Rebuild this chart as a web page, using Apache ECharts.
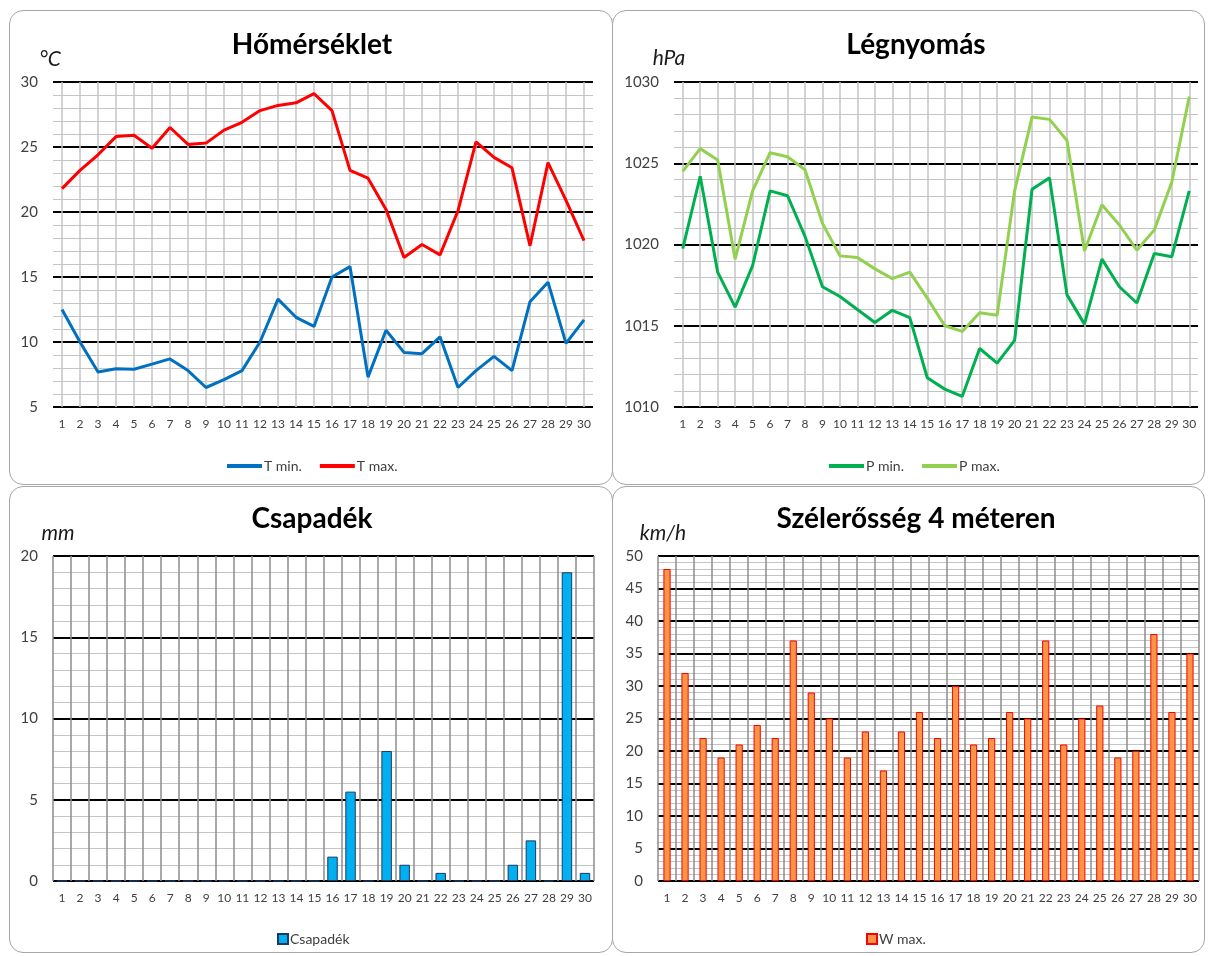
<!DOCTYPE html>
<html>
<head>
<meta charset="utf-8">
<script src="https://cdn.jsdelivr.net/npm/echarts@6/dist/echarts.min.js"></script>
<style>
    body { margin: 0; background: #fff; }
    .panel {
        position: absolute;
        border: 1px solid #a6a6a6;
        border-radius: 14px;
        box-sizing: border-box;
        background: #fff;
    }
</style>
</head>
<body>
<div class="panel" id="temp" style="left:9px;top:10px;width:604px;height:475px;"></div>
<div class="panel" id="pres" style="left:612px;top:10px;width:593px;height:475px;"></div>
<div class="panel" id="rain" style="left:9px;top:486px;width:604px;height:467px;"></div>
<div class="panel" id="wind" style="left:612px;top:486px;width:593px;height:467px;"></div>
<script>
// napok
var days = [];
for (var d = 1; d <= 30; d++) days.push(String(d));

// hőmérséklet (°C)
var tMin = [12.5, 10.0, 7.7, 7.95, 7.9, 8.3, 8.7, 7.8, 6.5, 7.1, 7.8, 10.0, 13.3, 11.9, 11.2,
            15.0, 15.8, 7.3, 10.9, 9.2, 9.1, 10.4, 6.5, 7.8, 8.9, 7.8, 13.1, 14.6, 9.9, 11.7];
var tMax = [21.8, 23.2, 24.4, 25.8, 25.9, 24.9, 26.5, 25.2, 25.3, 26.3, 26.9, 27.8, 28.2, 28.4, 29.1,
            27.8, 23.2, 22.6, 20.2, 16.5, 17.5, 16.7, 20.1, 25.4, 24.2, 23.4, 17.4, 23.8, 20.9, 17.8];

// légnyomás (hPa)
var pMin = [1019.75, 1024.2, 1018.3, 1016.15, 1018.7, 1023.3, 1023.0, 1020.5, 1017.4, 1016.8,
            1016.0, 1015.2, 1015.95, 1015.5, 1011.8, 1011.1, 1010.65, 1013.6, 1012.7, 1014.1,
            1023.4, 1024.1, 1016.9, 1015.1, 1019.1, 1017.4, 1016.4, 1019.45, 1019.25, 1023.3];
var pMax = [1024.5, 1025.9, 1025.2, 1019.1, 1023.3, 1025.65, 1025.4, 1024.6, 1021.3, 1019.3,
            1019.2, 1018.5, 1017.9, 1018.3, 1016.7, 1015.0, 1014.65, 1015.8, 1015.65, 1023.3,
            1027.85, 1027.7, 1026.4, 1019.6, 1022.45, 1021.2, 1019.65, 1020.9, 1023.85, 1029.1];

// csapadék (mm)
var rain = [0, 0, 0, 0, 0, 0, 0, 0, 0, 0, 0, 0, 0, 0, 0,
            1.5, 5.5, 0, 8, 1, 0, 0.5, 0, 0, 0, 1, 2.5, 0, 19, 0.5];

// szélerősség (km/h)
var wind = [48, 32, 22, 19, 21, 24, 22, 37, 29, 25, 19, 23, 17, 23, 26,
            22, 30, 21, 22, 26, 25, 37, 21, 25, 27, 19, 20, 38, 26, 35];

var FONT = 'Lato, "Open Sans", sans-serif';

// cím + mértékegység szövegek
function labels(title, tx, ty, unit, ux, uy) {
    return [
        {
            type: 'text', x: tx, y: ty,
            style: { text: title, fontSize: 28, fontWeight: 'bold', fontFamily: FONT,
                     fill: '#000', align: 'center', verticalAlign: 'middle' }
        },
        {
            type: 'text', x: ux, y: uy,
            style: { text: unit, fontSize: 21, fontStyle: 'italic', fontFamily: FONT,
                     fill: '#1a1a1a', align: 'center', verticalAlign: 'middle' }
        }
    ];
}

// y tengely: fekete fő vonalak, szürke segédvonalak
function yAxis(min, max) {
    return {
        type: 'value',
        min: min,
        max: max,
        interval: 5,
        axisLine: { show: false },
        axisTick: { show: false },
        axisLabel: {
            color: '#404040', fontSize: 15, fontFamily: FONT, margin: 15,
            formatter: function (v) { return String(v); }
        },
        splitLine: { lineStyle: { color: '#000', width: 2 } },
        minorTick: { show: false, splitNumber: 5 },
        minorSplitLine: { show: true, lineStyle: { color: '#c4c4c4', width: 1 } }
    };
}

// x tengely; vonal a napoknál (line) vagy a napok között (bar)
function xAxis(onCenter, gridColor) {
    return {
        type: 'category',
        data: days,
        axisLine: { show: false },
        axisTick: { show: false },
        axisLabel: { color: '#404040', fontSize: 12, fontFamily: FONT, interval: 0, margin: 11 },
        splitLine: {
            show: true,
            interval: 0,
            alignWithLabel: onCenter,
            lineStyle: { color: gridColor, width: 1.5 }
        }
    };
}

function lineSeries(name, data, color) {
    return {
        name: name, type: 'line', data: data, showSymbol: false, symbol: 'none',
        lineStyle: { color: color, width: 3 }, itemStyle: { color: color }, z: 5
    };
}

function legendOf(left, top, w, h) {
    return {
        left: left, top: top, icon: 'rect', itemWidth: w, itemHeight: h, itemGap: 18,
        textStyle: { color: '#404040', fontSize: 14, fontFamily: FONT, padding: [0, 0, 0, -3] }
    };
}

// Hőmérséklet
(function () {
    var myChart = echarts.init(document.getElementById('temp'));
    myChart.setOption({
        animation: false,
        grid: { left: 43, top: 71, width: 540, height: 325 },
        graphic: labels('Hőmérséklet', 302, 34, '°C', 40, 48),
        legend: legendOf(212, 443, 35, 4),
        xAxis: xAxis(true, '#c4c4c4'),
        yAxis: yAxis(5, 30),
        series: [lineSeries('T min.', tMin, '#0070c0'), lineSeries('T max.', tMax, '#ff0000')]
    });
})();

// Légnyomás
(function () {
    var myChart = echarts.init(document.getElementById('pres'));
    myChart.setOption({
        animation: false,
        grid: { left: 61, top: 71, width: 524, height: 325 },
        graphic: labels('Légnyomás', 303, 34, 'hPa', 56, 47),
        legend: legendOf(211, 443, 35, 4),
        xAxis: xAxis(true, '#c4c4c4'),
        yAxis: yAxis(1010, 1030),
        series: [lineSeries('P min.', pMin, '#00b050'), lineSeries('P max.', pMax, '#92d050')]
    });
})();

// Csapadék
(function () {
    var myChart = echarts.init(document.getElementById('rain'));
    myChart.setOption({
        animation: false,
        grid: { left: 43, top: 69, width: 541, height: 325 },
        graphic: labels('Csapadék', 302, 32, 'mm', 48, 46),
        legend: legendOf(262, 440, 10, 10),
        xAxis: xAxis(false, '#8c8c8c'),
        yAxis: yAxis(0, 20),
        series: [{
            name: 'Csapadék', type: 'bar', data: rain, barWidth: '58%', z: 5,
            itemStyle: { color: '#00b0f0', borderColor: '#1f3864', borderWidth: 1 }
        }]
    });
})();

// Szélerősség
(function () {
    var myChart = echarts.init(document.getElementById('wind'));
    myChart.setOption({
        animation: false,
        grid: { left: 45, top: 69, width: 541, height: 325 },
        graphic: labels('Szélerősség 4 méteren', 303, 32, 'km/h', 50, 46),
        legend: legendOf(248, 440, 10, 10),
        xAxis: xAxis(false, '#8c8c8c'),
        yAxis: yAxis(0, 50),
        series: [{
            name: 'W max.', type: 'bar', data: wind, barWidth: '40%', z: 5,
            itemStyle: { color: '#f79646', borderColor: '#ff0000', borderWidth: 1 }
        }]
    });
})();
</script>
</body>
</html>
